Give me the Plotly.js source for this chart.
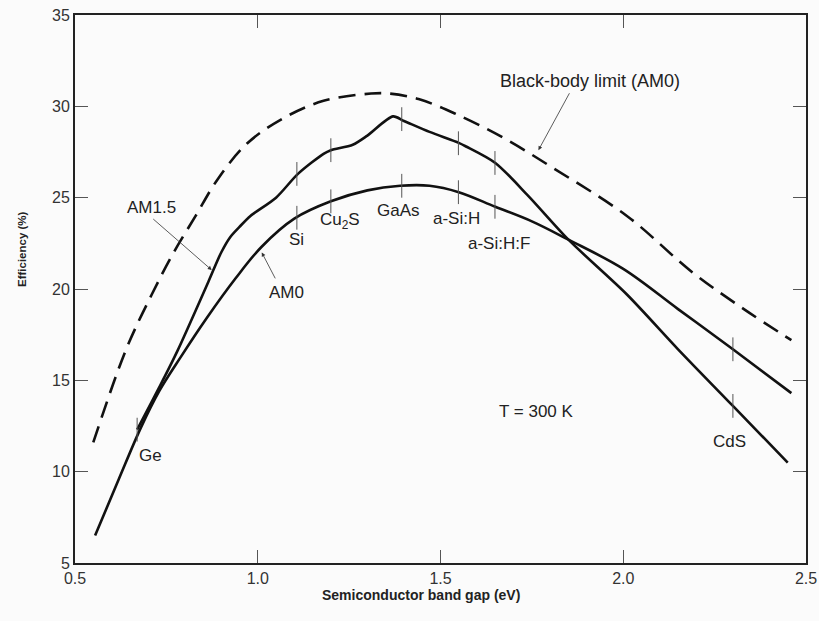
<!DOCTYPE html>
<html><head><meta charset="utf-8">
<script src="https://cdn.plot.ly/plotly-3.0.1.min.js"></script>
<style>html,body{margin:0;padding:0;background:#fbfbfb}</style>
</head><body><div id="chart" style="width:819px;height:621px"></div>
<script>
// Black-body limit (AM0) – dashed
const bbX = [0.55, 0.64, 0.71, 0.77, 0.83, 0.89, 0.97, 1.07, 1.18, 1.31, 1.36, 1.44, 1.54, 1.67, 1.81, 2.01, 2.19, 2.33, 2.46];
const bbY = [11.6, 16.7, 19.7, 22.0, 24.0, 26.0, 27.95, 29.35, 30.3, 30.7, 30.7, 30.4, 29.6, 28.3, 26.6, 24.0, 20.9, 18.9, 17.2];
// AM0
const am0X = [0.555, 0.62, 0.68, 0.73, 0.79, 0.86, 0.94, 1.01, 1.10, 1.20, 1.30, 1.39, 1.47, 1.55, 1.65, 1.75, 1.85, 2.0, 2.15, 2.30, 2.46];
const am0Y = [6.5, 9.6, 12.4, 14.4, 16.3, 18.4, 20.6, 22.3, 23.85, 24.8, 25.4, 25.65, 25.65, 25.3, 24.5, 23.7, 22.7, 21.1, 18.9, 16.7, 14.3];
// AM1.5
const am15X = [0.67, 0.73, 0.78, 0.865, 0.90, 0.925, 0.95, 0.98, 1.05, 1.11, 1.18, 1.20, 1.26, 1.30, 1.37, 1.40, 1.47, 1.55, 1.57, 1.65, 1.74, 1.85, 2.01, 2.15, 2.30, 2.45];
const am15Y = [12.3, 14.6, 16.6, 20.4, 22.0, 22.85, 23.4, 24.0, 25.0, 26.3, 27.4, 27.6, 27.9, 28.4, 29.45, 29.2, 28.6, 28.0, 27.8, 26.9, 25.1, 22.7, 19.7, 16.7, 13.6, 10.5];
// Material band gaps marked on the curves
const matNames = ['Ge', 'Si', 'Cu<sub>2</sub>S', 'GaAs', 'a-Si:H', 'a-Si:H:F', 'CdS'];
const matGap   = [0.67, 1.107, 1.20, 1.394, 1.549, 1.649, 2.30];
const matAm0   = [12.3, 23.9, 24.8, 25.65, 25.3, 24.5, 16.7];
const matAm15  = [12.3, 26.3, 27.6, 29.3, 27.98, 26.9, 13.6];
const matLabelX = [0.707, 1.107, 1.225, 1.385, 1.544, 1.66, 2.292];
const matLabelY = [10.9, 22.7, 23.7, 24.3, 23.87, 22.5, 11.65];
const xTicks = [0.5, 1.0, 1.5, 2.0, 2.5];
const xTickText = ['0.5', '1.0', '1.5', '2.0', '2.5'];
const yTicks = [5, 10, 15, 20, 25, 30, 35];

const FONT = 'Liberation Sans, Arial, sans-serif';
const INK = '#111';
const LBL = {family: FONT, size: 17, color: '#222'};

const traces = [
  {x: bbX, y: bbY, mode: 'lines', line: {color: INK, width: 2.6, dash: '17px,9px', shape: 'spline', smoothing: 1.0}, hoverinfo: 'skip'},
  {x: am0X, y: am0Y, mode: 'lines', line: {color: INK, width: 2.6, shape: 'spline', smoothing: 1.0}, hoverinfo: 'skip'},
  {x: am15X, y: am15Y, mode: 'lines', line: {color: INK, width: 2.6, shape: 'spline', smoothing: 0.8}, hoverinfo: 'skip'},
  {x: matGap, y: matAm0, mode: 'markers', marker: {symbol: 'line-ns-open', size: 17, color: '#555', line: {color: '#555', width: 1}}, hoverinfo: 'skip'},
  {x: matGap.slice(1), y: matAm15.slice(1), mode: 'markers', marker: {symbol: 'line-ns-open', size: 17, color: '#555', line: {color: '#555', width: 1}}, hoverinfo: 'skip'}
];

const annotations = matNames.map((n, i) => ({
  x: matLabelX[i], y: matLabelY[i], xref: 'x', yref: 'y', text: n, showarrow: false, font: LBL
}));
annotations.push(
  {x: 0.874, y: 21.04, ax: 0.71, ay: 23.9, axref: 'x', ayref: 'y', xref: 'x', yref: 'y', text: '', showarrow: true, arrowhead: 2, arrowsize: 1, arrowwidth: 0.8, arrowcolor: '#333'},
  {x: 0.71, y: 24.45, xref: 'x', yref: 'y', text: 'AM1.5', showarrow: false, font: LBL},
  {x: 1.011, y: 22.0, ax: 1.05, ay: 20.5, axref: 'x', ayref: 'y', xref: 'x', yref: 'y', text: '', showarrow: true, arrowhead: 2, arrowsize: 1, arrowwidth: 0.8, arrowcolor: '#333'},
  {x: 1.078, y: 19.8, xref: 'x', yref: 'y', text: 'AM0', showarrow: false, font: LBL},
  {x: 1.768, y: 27.6, ax: 1.855, ay: 30.8, axref: 'x', ayref: 'y', xref: 'x', yref: 'y', text: '', showarrow: true, arrowhead: 2, arrowsize: 1, arrowwidth: 0.8, arrowcolor: '#333'},
  {x: 1.91, y: 31.4, xref: 'x', yref: 'y', text: 'Black-body limit (AM0)', showarrow: false, font: {family: FONT, size: 18, color: '#222'}},
  {x: 1.762, y: 13.3, xref: 'x', yref: 'y', text: 'T = 300 K', showarrow: false, font: LBL},
  {x: 22, y: 249, xref: 'paper', yref: 'paper', text: '<b>Efficiency (%)</b>', textangle: -90, showarrow: false, font: {family: FONT, size: 11.5, color: '#222'}},
  {x: 421, y: 605, xref: 'paper', yref: 'paper', text: '<b>Semiconductor band gap (eV)</b>', showarrow: false, font: {family: FONT, size: 14, color: '#222'}}
);
// convert pixel-placed axis titles to paper coords
const L = 75, R = 13, T = 15, B = 58, W = 819, H = 621;
const pw = W - L - R, ph = H - T - B;
annotations.forEach(a => {
  if (a.xref === 'paper') { a.x = (a.x - L) / pw; a.y = (H - B - a.y) / ph; a.xanchor = 'center'; }
});

const axisCommon = {showgrid: false, zeroline: false, showline: true, linecolor: '#222', linewidth: 2,
  ticks: 'inside', ticklen: 13, tickwidth: 1, tickcolor: '#555', mirror: 'ticks',
  tickfont: {family: FONT, size: 16, color: '#333'}};

const layout = {
  width: W, height: H, margin: {l: L, r: R, t: T, b: B},
  paper_bgcolor: '#fbfbfb', plot_bgcolor: '#fbfbfb', showlegend: false,
  xaxis: Object.assign({}, axisCommon, {range: [0.5, 2.5], tickvals: xTicks, ticktext: xTickText}),
  yaxis: Object.assign({}, axisCommon, {range: [5, 35], tickvals: yTicks}),
  annotations: annotations
};
Plotly.newPlot('chart', traces, layout, {staticPlot: true});
</script></body></html>
